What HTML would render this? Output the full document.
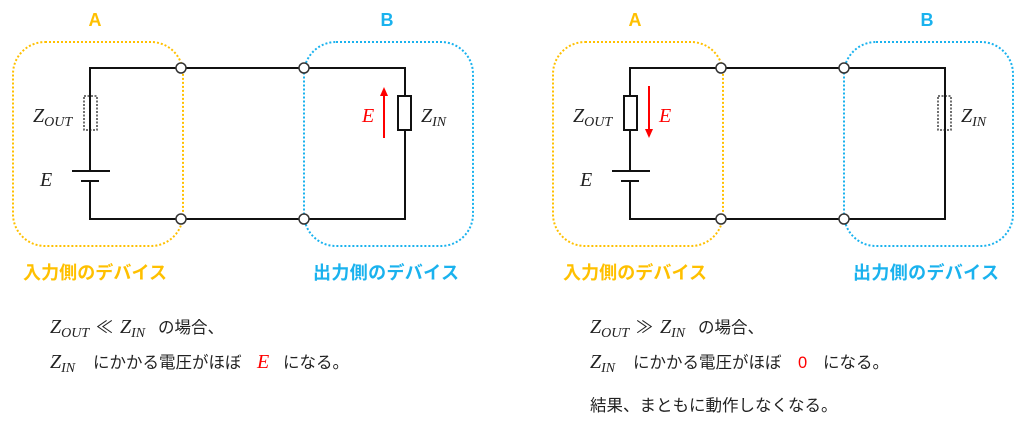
<!DOCTYPE html>
<html><head><meta charset="utf-8"><style>
html,body{margin:0;padding:0;background:#fff;}
svg{display:block;}
.m{font-family:"Liberation Serif","DejaVu Serif",serif;font-style:italic;}
.j{font-family:"Liberation Sans","Noto Sans CJK JP",sans-serif;}
</style></head><body>
<svg width="1024" height="427" viewBox="0 0 1024 427" xmlns="http://www.w3.org/2000/svg">
<defs>
<g id="frame">
  <rect x="13" y="42" width="170" height="204" rx="32" fill="none" stroke="#FFC000" stroke-width="2" stroke-dasharray="2 2"/>
  <rect x="304" y="42" width="169" height="204" rx="32" fill="none" stroke="#1AB2EE" stroke-width="2" stroke-dasharray="2 2"/>
  <text x="95" y="26" text-anchor="middle" class="j" font-weight="bold" font-size="18" fill="#FFC000">A</text>
  <text x="387" y="26" text-anchor="middle" class="j" font-weight="bold" font-size="18" fill="#1AB2EE">B</text>
  <text x="23" y="279" class="j" font-weight="bold" font-size="18" fill="#FFC000" textLength="144">入力側のデバイス</text>
  <text x="313" y="279" class="j" font-weight="bold" font-size="18" fill="#1AB2EE" textLength="146">出力側のデバイス</text>
  <g stroke="#111" stroke-width="2" fill="none">
    <polyline points="90,171 90,68 405,68 405,219 90,219 90,181"/>
    <line x1="72" y1="171" x2="110" y2="171"/>
    <line x1="81" y1="181" x2="99" y2="181"/>
  </g>
  <g fill="#fff" stroke="#333" stroke-width="1.5">
    <circle cx="181" cy="68" r="5"/><circle cx="304" cy="68" r="5"/>
    <circle cx="181" cy="219" r="5"/><circle cx="304" cy="219" r="5"/>
  </g>
  <text x="33" y="122" class="m" font-size="20" fill="#222">Z<tspan font-size="14" dy="4">OUT</tspan></text>
  <text x="40" y="186" class="m" font-size="20" fill="#222">E</text>
  <text x="421" y="122" class="m" font-size="20" fill="#222">Z<tspan font-size="14" dy="4">IN</tspan></text>
</g>
</defs>

<use href="#frame"/>
<rect x="84" y="96" width="13" height="34" fill="#fff" stroke="#222" stroke-width="1.3" stroke-dasharray="2 1.5"/>
<line x1="90" y1="96" x2="90" y2="130" stroke="#111" stroke-width="2"/>
<rect x="398" y="96" width="13" height="34" fill="#fff" stroke="#111" stroke-width="2"/>
<line x1="384" y1="138" x2="384" y2="95" stroke="#f00" stroke-width="2"/>
<polygon points="384,87 380,96 388,96" fill="#f00"/>
<text x="362" y="122" class="m" font-size="20" fill="#f00">E</text>

<g transform="translate(540,0)">
<use href="#frame"/>
<rect x="84" y="96" width="13" height="34" fill="#fff" stroke="#111" stroke-width="2"/>
<line x1="109" y1="86" x2="109" y2="130" stroke="#f00" stroke-width="2"/>
<polygon points="109,138 105,129 113,129" fill="#f00"/>
<text x="119" y="122" class="m" font-size="20" fill="#f00">E</text>
<rect x="398" y="96" width="13" height="34" fill="#fff" stroke="#222" stroke-width="1.3" stroke-dasharray="2 1.5"/>
<line x1="405" y1="96" x2="405" y2="130" stroke="#111" stroke-width="2"/>
</g>

<g fill="#222">
<text x="50" y="333" class="m" font-size="20">Z<tspan font-size="14" dy="4">OUT</tspan></text>
<text x="96" y="333" class="j" font-size="17">≪</text>
<text x="120" y="333" class="m" font-size="20">Z<tspan font-size="14" dy="4">IN</tspan></text>
<text x="158" y="333" class="j" font-size="16.5">の場合、</text>
<text x="50" y="368" class="m" font-size="20">Z<tspan font-size="14" dy="4">IN</tspan></text>
<text x="93" y="368" class="j" font-size="16.5">にかかる電圧がほぼ</text>
<text x="257" y="368" class="m" font-size="20" fill="#f00">E</text>
<text x="283" y="368" class="j" font-size="16.5">になる。</text>

<text x="590" y="333" class="m" font-size="20">Z<tspan font-size="14" dy="4">OUT</tspan></text>
<text x="636" y="333" class="j" font-size="17">≫</text>
<text x="660" y="333" class="m" font-size="20">Z<tspan font-size="14" dy="4">IN</tspan></text>
<text x="698" y="333" class="j" font-size="16.5">の場合、</text>
<text x="590" y="368" class="m" font-size="20">Z<tspan font-size="14" dy="4">IN</tspan></text>
<text x="633" y="368" class="j" font-size="16.5">にかかる電圧がほぼ</text>
<text x="798" y="368" class="j" font-size="16.5" fill="#f00">0</text>
<text x="823" y="368" class="j" font-size="16.5">になる。</text>
<text x="590" y="411" class="j" font-size="16.5">結果、まともに動作しなくなる。</text>
</g>
</svg>
</body></html>
